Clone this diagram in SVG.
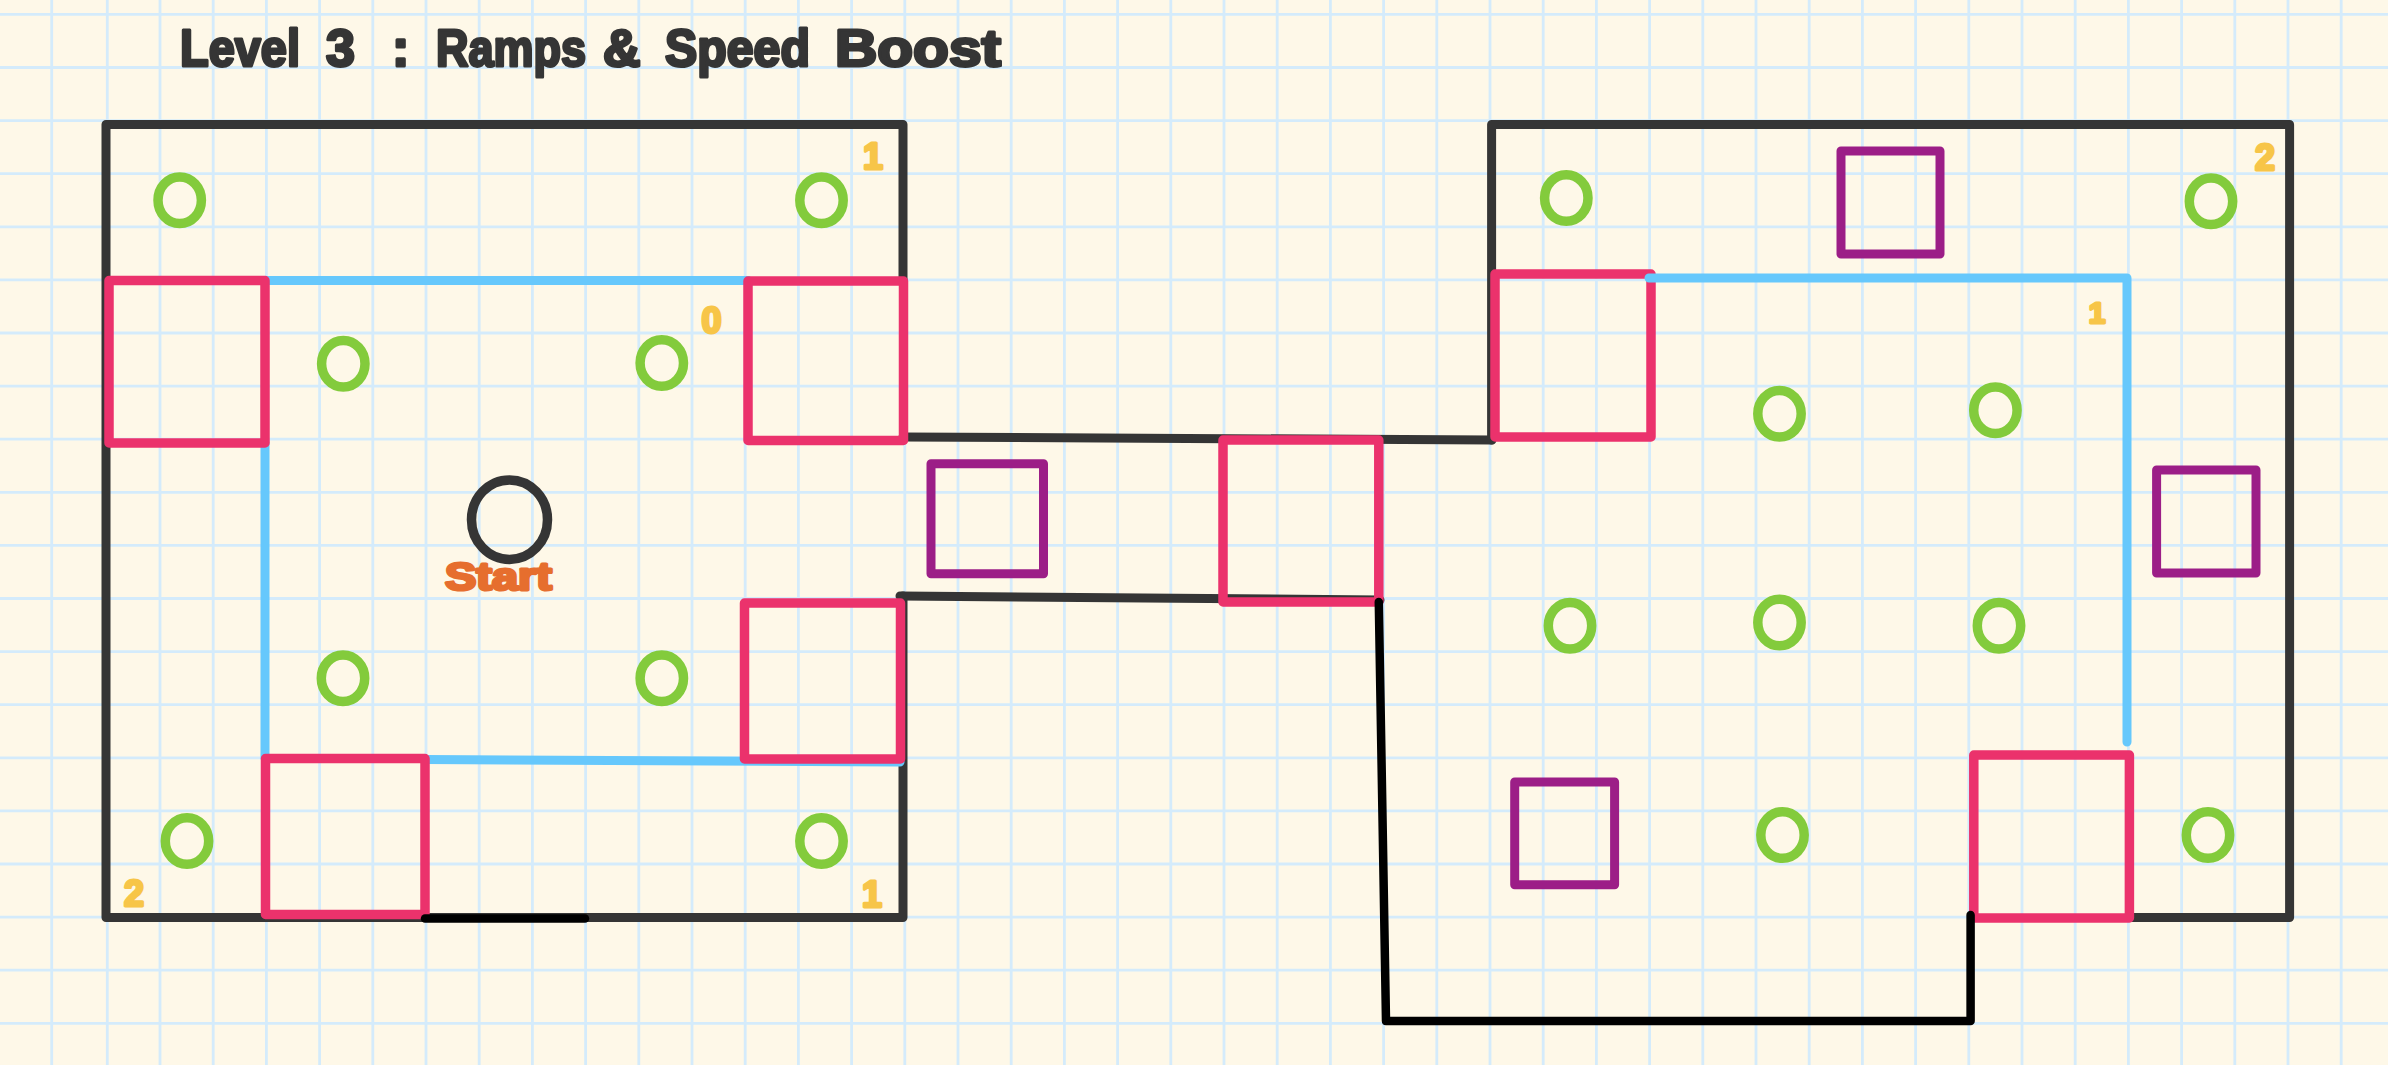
<svg xmlns="http://www.w3.org/2000/svg" width="2388" height="1065" viewBox="0 0 2388 1065">
<style>
.grid{fill:none;stroke:#d4ebfb;stroke-width:2.8}
.wall{fill:none;stroke:#353535;stroke-width:9;stroke-linecap:round;stroke-linejoin:round}
.blue{fill:none;stroke:#66c8fc;stroke-width:9;stroke-linecap:round;stroke-linejoin:round}
.ramp{fill:none;stroke:#eb326c;stroke-width:9.5;stroke-linejoin:round}
.boost{fill:none;stroke:#9c1e87;stroke-width:9;stroke-linejoin:round}
.coin{fill:none;stroke:#83cb3c;stroke-width:9.5}
.gap{fill:none;stroke:#000;stroke-width:8.5;stroke-linecap:round;stroke-linejoin:round}
.hand{font-family:"Liberation Sans",Arial,sans-serif;font-weight:700;stroke-linejoin:round}
.num{fill:#f7c548;stroke:#f7c548;stroke-width:3;font-size:36px;text-anchor:middle}
</style>
<rect width="2388" height="1065" fill="#fef8e8"/>
<path id="grid" class="grid" d="M51.7 0V1065M107.300 0V1065M160 0V1065M213.200 0V1065M266.400 0V1065M319.600 0V1065M372.800 0V1065M426 0V1065M479.200 0V1065M532.400 0V1065M585.600 0V1065M638.800 0V1065M692 0V1065M745.200 0V1065M798.400 0V1065M851.600 0V1065M904.800 0V1065M958 0V1065M1011.200 0V1065M1064.400 0V1065M1117.600 0V1065M1170.800 0V1065M1224 0V1065M1277.200 0V1065M1330.400 0V1065M1383.600 0V1065M1436.800 0V1065M1490 0V1065M1543.200 0V1065M1596.400 0V1065M1649.600 0V1065M1702.800 0V1065M1756 0V1065M1809.200 0V1065M1862.400 0V1065M1915.600 0V1065M1968.800 0V1065M2022 0V1065M2075.200 0V1065M2128.400 0V1065M2181.600 0V1065M2234.800 0V1065M2288 0V1065M2341.200 0V1065M0 14.400H2388M0 67.500H2388M0 120.600H2388M0 173.700H2388M0 226.800H2388M0 279.900H2388M0 333H2388M0 386.100H2388M0 439.200H2388M0 492.300H2388M0 545.400H2388M0 598.500H2388M0 651.600H2388M0 704.700H2388M0 757.800H2388M0 810.900H2388M0 864H2388M0 917.100H2388M0 970.200H2388M0 1023.300H2388"/>
<text id="title" class="hand" fill="#353535" stroke="#353535" stroke-width="3" font-size="52" y="66"><tspan x="180" textLength="120" lengthAdjust="spacingAndGlyphs">Level</tspan> <tspan x="326">3</tspan> <tspan x="392">:</tspan> <tspan x="436" textLength="150" lengthAdjust="spacingAndGlyphs">Ramps</tspan> <tspan x="603">&amp;</tspan> <tspan x="665" textLength="145" lengthAdjust="spacingAndGlyphs">Speed</tspan> <tspan x="835" textLength="166" lengthAdjust="spacingAndGlyphs">Boost</tspan></text>
<g id="connectors">
<path class="wall" d="M903 281V124.500H106V917.500H903V596"/>
<path class="wall" d="M903 437L1492 440"/>
<path class="wall" d="M900 596L1380 600"/>
<path class="wall" d="M1491.600 440V124.500H2289.600V917.500H2130"/>
<path class="blue" d="M265 280.500H748M265 443V758M425 759.500L900 762"/>
</g>
<g id="ramp-1"><rect class="ramp" x="109" y="280.500" width="156" height="162.500"/></g>
<g id="ramp-2"><rect class="ramp" x="748" y="281" width="155.500" height="159.500"/></g>
<g id="ramp-3"><rect class="ramp" x="744.500" y="603" width="156" height="156"/></g>
<g id="ramp-4"><rect class="ramp" x="265.500" y="758.500" width="159.500" height="156"/></g>
<g id="ramp-5"><rect class="ramp" x="1223" y="440" width="155.800" height="162"/></g>
<g id="ramp-6"><rect class="ramp" x="1495" y="274" width="156" height="163"/></g>
<g id="ramp-7"><rect class="ramp" x="1973.800" y="755" width="155.600" height="163"/></g>
<g id="connectors-over"><path class="blue" d="M1649 278H2127V742"/></g>
<g id="boost-1"><rect class="boost" x="931" y="463.700" width="112.500" height="110"/></g>
<g id="boost-2"><rect class="boost" x="1841" y="151" width="99" height="103"/></g>
<g id="boost-3"><rect class="boost" x="2156.600" y="470" width="99.400" height="103"/></g>
<g id="boost-4"><rect class="boost" x="1514.700" y="782" width="99.900" height="102.700"/></g>
<g id="coins">
<ellipse class="coin" cx="179.700" cy="200.300" rx="21.700" ry="23.300"/>
<ellipse class="coin" cx="821.500" cy="200.300" rx="21.700" ry="23.300"/>
<ellipse class="coin" cx="343.300" cy="363.700" rx="21.700" ry="23.300"/>
<ellipse class="coin" cx="661.800" cy="363" rx="21.700" ry="23.300"/>
<ellipse class="coin" cx="343" cy="678.300" rx="21.700" ry="23.300"/>
<ellipse class="coin" cx="661.800" cy="678.300" rx="21.700" ry="23.300"/>
<ellipse class="coin" cx="187" cy="841" rx="21.700" ry="23.300"/>
<ellipse class="coin" cx="821.500" cy="841" rx="21.700" ry="23.300"/>
<ellipse class="coin" cx="1566.300" cy="198" rx="21.700" ry="23.300"/>
<ellipse class="coin" cx="2211" cy="201.200" rx="21.700" ry="23.300"/>
<ellipse class="coin" cx="1779.500" cy="413.700" rx="21.700" ry="23.300"/>
<ellipse class="coin" cx="1995.400" cy="410.300" rx="21.700" ry="23.300"/>
<ellipse class="coin" cx="1570" cy="625.800" rx="21.700" ry="23.300"/>
<ellipse class="coin" cx="1779.500" cy="622.500" rx="21.700" ry="23.300"/>
<ellipse class="coin" cx="1999" cy="625.800" rx="21.700" ry="23.300"/>
<ellipse class="coin" cx="1782.500" cy="835" rx="21.700" ry="23.300"/>
<ellipse class="coin" cx="2208" cy="835" rx="21.700" ry="23.300"/>
</g>
<g id="start">
<ellipse cx="509.500" cy="519.700" rx="38" ry="39.800" fill="none" stroke="#353535" stroke-width="9.500"/>
<text class="hand" x="445" y="590" font-size="38" fill="#e66e2e" stroke="#e66e2e" stroke-width="3" textLength="107" lengthAdjust="spacingAndGlyphs">Start</text>
</g>
<g id="gaps">
<path class="gap" d="M425 918.500H585"/>
<path class="gap" d="M1378.800 602L1386 1021H1970.600V915"/>
</g>
<g id="numbers">
<text class="hand num" x="873" y="169">1</text>
<text class="hand num" x="711.500" y="333">0</text>
<text class="hand num" x="134" y="906">2</text>
<text class="hand num" x="872" y="907">1</text>
<text class="hand num" x="2265" y="170">2</text>
<text class="hand num" x="2097" y="323" style="font-size:30px">1</text>
</g>
</svg>
